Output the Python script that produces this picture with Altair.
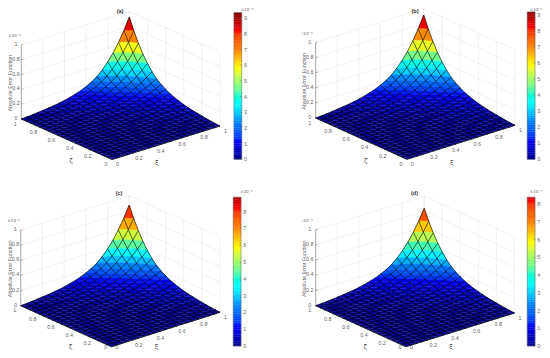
import altair as alt

# values
panel_tags = ["(a)", "(b)", "(c)", "(d)"]
surface_peaks = [0.926, 0.914, 0.875, 0.84]          # x10^-8, height of the surface at the far corner
colorbar_tops = [9.36, 9.16, 8.85, 8.40]             # x10^-9
colorbar_ticks = [list(range(10)), list(range(10)), list(range(9)), list(range(9))]
edge_profile = [0, .004, .010, .017, .026, .034, .044, .055, .070, .088, .110,
                .135, .168, .208, .257, .325, .410, .510, .630, .770, .930]
floor_ticks = [0, 0.2, 0.4, 0.6, 0.8, 1]
height_ticks = [0, 0.2, 0.4, 0.6, 0.8, 1]
jet = ["#00008f", "#0000ff", "#0080ff", "#00ffff", "#80ff80", "#ffff00", "#ff8000", "#ff0000", "#800000"]

# view of each panel's 3D box, in page pixels: front, right and left floor corners, unit height
front_corners = [(112, 159.5), (407, 159.3), (111.5, 346.7), (406, 346.7)]
right_corners = [(220, 126), (515, 125.3), (220, 312.3), (514.5, 313)]
left_corners = [(21.3, 119), (315.7, 118), (20.7, 305.7), (315.7, 305.7)]
unit_heights = [74, 75.5, 75.7, 76]
panel_origins = [(8, 8), (302, 8), (8, 183), (302, 183)]
panel_sizes = [(294, 175), (240, 175), (294, 167), (240, 167)]
tag_positions = [(120, 11), (415, 11), (119, 193), (414.5, 193)]
bar_tops = [12.7, 12, 197.3, 197.3]
bar_bottoms = [159.3, 159.3, 346, 346]
bar_lefts = [234, 527.3, 233.3, 527.3]
bar_width = 7.7
bar_steps = 64
bar_exponent = "×10⁻⁹"
height_exponent = "×10⁻⁸"
font = "Liberation Sans"
n = len(edge_profile) - 1
lowest_label_y = 347.2   # page limit for the text under the front corner


def panel(k):
    ox, oy = panel_origins[k]
    fx, fy = front_corners[k]
    rx, ry = right_corners[k]
    lx, ly = left_corners[k]
    hz = unit_heights[k]

    def P(u, v, z=0.0):
        return [round(fx + u * (rx - fx) + v * (lx - fx) - ox, 2),
                round(fy + u * (ry - fy) + v * (ly - fy) - z * hz - oy, 2)]

    g = [e / edge_profile[-1] for e in edge_profile]
    Z = [[surface_peaks[k] * g[i] * g[j] for j in range(n + 1)] for i in range(n + 1)]
    V = [[P(i / n, j / n, Z[i][j]) for j in range(n + 1)] for i in range(n + 1)]

    def poly(ring, v):
        return {"type": "Feature", "properties": {"v": round(v, 3)},
                "geometry": {"type": "Polygon", "coordinates": [ring + [ring[0]]]}}

    # surface facets, far corner first
    cells = sorted(((i, j) for i in range(n) for j in range(n)), key=lambda c: -(c[0] + c[1]))
    facets = []
    for i, j in cells:
        back, a, b, near = (i + 1, j + 1), (i + 1, j), (i, j + 1), (i, j)
        side = (Z[a[0]][a[1]] + Z[b[0]][b[1]]) / 2
        for tip, tri in ((back, (a, back, b)), (near, (a, b, near))):
            val = (Z[tip[0]][tip[1]] + side) / 2 * 10
            facets.append(poly([V[p][q] for p, q in tri], val))

    # colour bar, drawn through the same colour scale
    top, bot, left = bar_tops[k] - oy, bar_bottoms[k] - oy, bar_lefts[k] - ox
    maxv = colorbar_tops[k]
    for s in range(bar_steps):
        y0 = bot - (bot - top) * s / bar_steps
        y1 = bot - (bot - top) * (s + 1) / bar_steps
        facets.append(poly([[round(left, 2), round(y0, 2)], [round(left + bar_width, 2), round(y0, 2)],
                            [round(left + bar_width, 2), round(y1, 2)], [round(left, 2), round(y1, 2)]],
                           maxv * (s + 0.5) / bar_steps))

    def seg(*pts):
        return {"type": "Feature", "properties": {},
                "geometry": {"type": "LineString", "coordinates": list(pts)}}

    mesh = []
    for i in range(n + 1):
        mesh.append(seg(*[V[i][j] for j in range(n + 1)]))
        mesh.append(seg(*[V[j][i] for j in range(n + 1)]))

    walls = []
    for z in height_ticks:
        walls.append(seg(P(0, 1, z), P(1, 1, z), P(1, 0, z)))
    for t in floor_ticks:
        walls.append(seg(P(t, 1, 0), P(t, 1, 1)))
        walls.append(seg(P(1, t, 0), P(1, t, 1)))

    axes = [seg(P(0, 1, 0), P(0, 1, 1)), seg(P(0, 1, 0), P(0, 0, 0)), seg(P(0, 0, 0), P(1, 0, 0))]
    for z in height_ticks:
        p = P(0, 1, z)
        axes.append(seg(p, [p[0] + 2, p[1] - 0.6]))
    axes.append(seg([left, top], [left + bar_width, top], [left + bar_width, bot], [left, bot], [left, top]))
    bar_labels = []
    for t in colorbar_ticks[k]:
        y = round(bot - (bot - top) * t / maxv, 2)
        axes.append(seg([left + bar_width - 1.5, y], [left + bar_width, y]))
        bar_labels.append({"x": left + bar_width + 2.3, "y": y, "t": f"{t}"})

    ymax = lowest_label_y - oy

    # text
    z_dx = 5.2 if ox < 20 else 6
    labels = []
    for t in floor_ticks:
        p = P(0, t)
        labels.append({"x": p[0] - 6, "y": min(p[1] + 4.6, ymax), "t": f"{t:g}"})
        p = P(t, 0)
        labels.append({"x": p[0] + 5.5, "y": min(p[1] + 4.7, ymax), "t": f"{t:g}"})
    for z in height_ticks:
        p = P(0, 1, z)
        labels.append({"x": p[0] - z_dx, "y": p[1] - 1, "t": f"{z:g}"})
    p = P(0, 1, 1)
    exps = [{"x": p[0] - 9.5 if ox > 20 else p[0] - 7, "y": p[1] - 9, "t": height_exponent},
            {"x": min(left + 13, panel_sizes[k][0] - 6), "y": max(top - 5.5, 2.2), "t": bar_exponent}]

    p = P(0, 0.5)
    q = P(0.5, 0)
    greek = [{"x": p[0] + 4.4, "y": min(p[1] + 22, ymax), "t": "ζ"},
             {"x": q[0] - 9.3, "y": min(q[1] + 20.6, ymax), "t": "ξ"}]
    tag = [{"x": tag_positions[k][0] - ox, "y": tag_positions[k][1] - oy, "t": panel_tags[k]}]
    mid = P(0, 1, 0.5)
    ylabel = [{"x": max(mid[0] - 16.3, 2.4), "y": mid[1] + 1, "t": "Absolute Error Function"}]

    proj = alt.Projection(type="identity", scale=1, translate=[0, 0])

    def geo(values):
        return alt.Chart(alt.InlineData(values=values, format=alt.DataFormat(type="json")))

    def txt(values, fname=font, **kw):
        return alt.Chart(alt.InlineData(values=values)).mark_text(font=fname, **kw).encode(
            longitude="x:Q", latitude="y:Q", text="t:N")

    scale_c = alt.Scale(domain=[0, maxv], range=jet, clamp=True)
    surface = geo(facets).mark_geoshape(strokeWidth=0.35).encode(
        fill=alt.Fill("properties.v:Q", scale=scale_c, legend=None),
        stroke=alt.Stroke("properties.v:Q", scale=scale_c, legend=None),
    )
    return alt.layer(
        geo(walls).mark_geoshape(filled=False, stroke="#e4e4e4", strokeWidth=0.5),
        surface,
        geo(axes).mark_geoshape(filled=False, stroke="#6a6a6a", strokeWidth=0.55),
        geo(mesh).mark_geoshape(filled=False, stroke="#000000", strokeWidth=0.7, strokeOpacity=0.88),
        txt(labels, fontSize=5.4, color="#666666"),
        txt(bar_labels, fontSize=5.4, color="#666666", align="left"),
        txt(exps, fname="DejaVu Sans", fontSize=4.2, color="#666666"),
        txt(greek, fname="DejaVu Sans", fontSize=6.5, color="#555555"),
        txt(tag, fontSize=5.5, color="#333333", fontWeight="bold"),
        txt(ylabel, fontSize=5.4, color="#666666", angle=270),
        projection=proj,
    ).properties(width=panel_sizes[k][0], height=panel_sizes[k][1])


chart = alt.concat(panel(0), panel(1), panel(2), panel(3), columns=2, spacing=0, bounds="flush").properties(
    padding=0, background="white"
).configure_view(stroke=None)

chart.save("out.html", embed_options={"renderer": "svg", "actions": False})
